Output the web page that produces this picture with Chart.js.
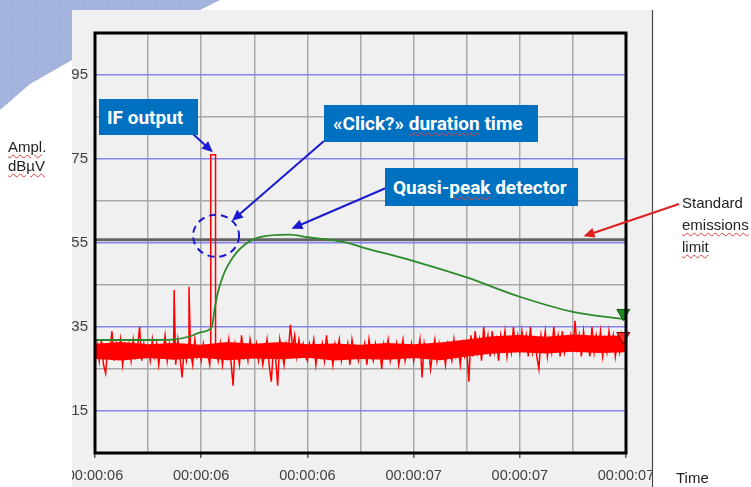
<!DOCTYPE html>
<html lang="en">
<head>
<meta charset="UTF-8">
<title>IF output and quasi-peak detector</title>
<script src="https://cdn.jsdelivr.net/npm/chart.js"></script>
<style>
  html, body { margin: 0; padding: 0; background: #fff; }
  body {
    width: 751px;
    height: 487px;
    position: relative;
    overflow: hidden;
    font-family: 'Liberation Sans', Arial, sans-serif;
  }
  .deco {
    position: absolute;
    left: 0;
    top: 0;
    width: 240px;
    height: 120px;
    background-color: #a6b5dd;
    background-image: radial-gradient(#95a7d4 0.7px, transparent 1px);
    background-size: 3px 3px;
    clip-path: polygon(0 0, 220px 0, 200px 10px, 140px 34px, 72px 60px, 30px 84px, 0 110px);
  }
  .wrap { position: absolute; left: 0; top: 0; width: 751px; height: 487px; }
  .side { position: absolute; font-size: 15px; color: #222; }
  .sp {
    text-decoration: underline wavy #e04040;
    text-decoration-thickness: 1px;
    text-underline-offset: 2px;
  }
  .box {
    position: absolute;
    background: #0070c0;
    color: #fff;
    font-family: Roboto, 'Open Sans', sans-serif;
    font-weight: bold;
    font-size: 19px;
    display: flex;
    align-items: center;
    box-sizing: border-box;
    white-space: nowrap;
  }
</style>
</head>
<body>

<div class="deco"></div>

<div class="wrap">
  <canvas id="chart"></canvas>
</div>

<div class="side" style="left:8px; top:137px; line-height:19px;"><span class="sp">Ampl</span>.<br><span class="sp">dBµV</span></div>
<div class="side" style="left:682px; top:192px; line-height:22px;">Standard<br><span class="sp">emissions</span><br><span class="sp">limit</span></div>
<div class="side" style="left:676px; top:468px; line-height:20px;">Time</div>

<div class="box" style="left:99px; top:99px; width:99px; height:36px; padding-left:8px;">IF output</div>
<div class="box" style="left:324px; top:105px; width:214px; height:37px; padding-left:9px;">«Click?»&nbsp;<span class="sp">duration</span>&nbsp;time</div>
<div class="box" style="left:385px; top:168px; width:193px; height:38px; padding-left:8px;">Quasi-<span class="sp">peak</span>&nbsp;detector</div>

<script>
  // axis labels
  const xTickLabels = ['00:00:06', '00:00:06', '00:00:06', '00:00:07', '00:00:07', '00:00:07'];
  const yTickLabels = [15, 35, 55, 75, 95];

  // IF output (red): sampled noise, one value every 0.04 grid division
  const noiseStep = 0.04;
  const noise = [
    28, 31, 27, 32, 26, 24, 30, 29, 34, 27, 31, 28, 32, 26, 30, 29, 31, 27, 32, 28, 30, 35, 27, 31, 28,
    30, 27, 32, 28, 31, 26, 30, 29, 33, 27, 31, 28, 30, 26, 32, 28, 23, 30, 27, 31, 29, 26, 32, 28, 30,
    27, 31, 28, 29, 26, 32, 28, 30, 27, 31, 26, 30, 28, 32, 27, 21, 31, 29, 26, 33, 28, 30, 27, 32, 29,
    28, 31, 27, 30, 26, 29, 32, 26, 22, 30, 28, 21, 32, 29, 26, 31, 29, 35.5, 30, 33, 28, 32, 29, 31, 28,
    27, 31, 29, 32, 26, 30, 28, 31, 27, 33, 28, 30, 26, 31, 29, 32, 27, 30, 28, 31, 26, 32, 29, 30, 27,
    30, 28, 31, 26, 32, 29, 27, 31, 28, 30, 25, 31, 29, 32, 27, 30, 28, 31, 26, 29, 32, 27, 30, 28, 31,
    27, 30, 29, 32, 23, 31, 28, 30, 25, 29, 32, 27, 31, 28, 30, 26, 31, 29, 27, 32, 28, 30, 26, 31, 28,
    30, 22, 33, 28, 34, 29, 32, 27, 35, 30, 33, 28, 34, 29, 32, 27, 33, 30, 34, 28, 32, 29, 35, 30, 33,
    29, 34, 30, 33, 28, 35, 29, 32, 28, 25, 33, 30, 34, 28, 32, 29, 35, 30, 33, 28, 34, 29, 32, 30, 33,
    29, 36.5, 30, 33, 28, 34, 30, 32, 28, 35, 29, 33, 30, 34, 28, 32, 29, 34, 30, 33, 28, 32, 29, 33, 30,
    32
  ];
  // solid core of the noise band (lower / upper edge), read every half division
  const coreT = [0, 0.5, 1, 1.5, 2, 2.5, 3, 3.5, 4, 4.5, 5, 5.5, 6, 6.5, 7, 7.5, 8, 8.5, 9, 9.5, 10];
  const coreLo = [27.4, 27, 27.6, 27.2, 27.7, 27.1, 27.5, 27.3, 27.7, 27, 27.4, 27.2, 27.6, 27.1, 28, 28.7, 29, 28.7, 29.1, 28.8, 29];
  const coreHi = [31, 31.4, 30.9, 31.2, 30.8, 31.4, 31, 31.4, 30.9, 31.1, 30.8, 31.2, 30.9, 31.3, 32, 32.8, 33.1, 32.7, 33.2, 32.9, 33];
  const spikeT = [1.49, 1.77];
  const spikeV = [43.8, 44.6];
  const pulseT = [2.18, 2.18, 2.27, 2.27];
  const pulseV = [29, 76, 76, 28];

  // quasi-peak detector (green)
  const qpT = [0, 1.0, 1.45, 1.8, 2.0, 2.2, 2.25, 2.3, 2.4, 2.5, 2.73, 3.1, 3.65, 4.0, 4.7, 5.0, 6.0, 7.0, 8.0, 9.0, 10];
  const qpV = [31.9, 31.9, 32.0, 32.8, 33.8, 35.0, 39.0, 42.5, 46.8, 49.6, 53.6, 56.4, 57.0, 56.4, 55.2, 54.1, 50.7, 46.8, 42.2, 38.6, 36.8];

  // standard emissions limit
  const limitT = [0, 10];
  const limitV = [55.8, 55.8];

  // end markers
  const markT = [9.95];
  const markQpV = [38.3];
  const markIfV = [32.8];

  const ifPts = [];
  noise.forEach((v, i) => {
    const t = +(i * noiseStep).toFixed(2);
    if (t > pulseT[0] && t < pulseT[3]) return;
    ifPts.push({ x: t, y: v });
  });
  spikeT.forEach((t, i) => ifPts.push({ x: t, y: spikeV[i] }));
  pulseT.forEach((t, i) => ifPts.push({ x: t, y: pulseV[i] }));
  ifPts.sort((a, b) => a.x - b.x);

  const pts = (ts, vs) => ts.map((t, i) => ({ x: t, y: vs[i] }));

  function arrow(ctx, x1, y1, x2, y2, color) {
    const a = Math.atan2(y2 - y1, x2 - x1);
    const hl = 11, hw = 5;
    ctx.strokeStyle = color;
    ctx.fillStyle = color;
    ctx.lineWidth = 2;
    ctx.beginPath();
    ctx.moveTo(x1, y1);
    ctx.lineTo(x2 - Math.cos(a) * hl * 0.8, y2 - Math.sin(a) * hl * 0.8);
    ctx.stroke();
    ctx.beginPath();
    ctx.moveTo(x2, y2);
    ctx.lineTo(x2 - Math.cos(a) * hl - Math.sin(a) * hw, y2 - Math.sin(a) * hl + Math.cos(a) * hw);
    ctx.lineTo(x2 - Math.cos(a) * hl + Math.sin(a) * hw, y2 - Math.sin(a) * hl - Math.cos(a) * hw);
    ctx.closePath();
    ctx.fill();
  }

  const pagePlugin = {
    id: 'page',
    beforeDraw(chart) {
      const ctx = chart.ctx;
      ctx.save();
      ctx.fillStyle = '#f0f0f0';
      ctx.fillRect(72, 10, 580, 477);
      ctx.strokeStyle = '#4a4a4a';
      ctx.lineWidth = 1.2;
      ctx.beginPath();
      ctx.moveTo(652.5, 10);
      ctx.lineTo(652.5, 487);
      ctx.stroke();
      ctx.beginPath();
      ctx.rect(72, 10, 580, 477);
      ctx.clip();
    },
    afterDatasetsDraw(chart) {
      const ctx = chart.ctx;
      const a = chart.chartArea;
      const xs = chart.scales.x, ys = chart.scales.y;
      ctx.save();
      ctx.strokeStyle = '#000';
      ctx.lineWidth = 3;
      ctx.strokeRect(a.left, a.top, a.right - a.left, a.bottom - a.top);

      // dashed circle round the click
      const cx = xs.getPixelForValue(2.28), cy = ys.getPixelForValue(56.7);
      ctx.strokeStyle = '#1a1ad0';
      ctx.lineWidth = 2;
      ctx.setLineDash([7, 5]);
      ctx.beginPath();
      ctx.ellipse(cx, cy, 23, 21, 0, 0, Math.PI * 2);
      ctx.stroke();
      ctx.setLineDash([]);

      arrow(ctx, 193, 134, xs.getPixelForValue(2.22), ys.getPixelForValue(76.6), '#1a1ad0');
      arrow(ctx, 324, 141, cx + 16, cy - 15, '#1a1ad0');
      arrow(ctx, 386, 188, xs.getPixelForValue(3.7), ys.getPixelForValue(58.4), '#1a1ad0');
      ctx.restore();
    },
    afterDraw(chart) {
      const ctx = chart.ctx;
      ctx.restore();
      const xs = chart.scales.x, ys = chart.scales.y;
      ctx.save();
      arrow(ctx, 679, 204, xs.getPixelForValue(9.2), ys.getPixelForValue(56.6), '#e02020');
      ctx.restore();
    }
  };

  const tickFont = { family: "'Liberation Sans', Arial, sans-serif", size: 14.5 };

  new Chart(document.getElementById('chart'), {
    type: 'line',
    data: {
      datasets: [
        {
          label: 'QP marker', data: pts(markT, markQpV), showLine: false, clip: false,
          pointStyle: 'triangle', rotation: 180, pointRadius: 7.5,
          pointBackgroundColor: '#1e8c1e', pointBorderColor: '#0b5a0b', pointBorderWidth: 1, order: 0
        },
        {
          label: 'IF marker', data: pts(markT, markIfV), showLine: false, clip: false,
          pointStyle: 'triangle', rotation: 180, pointRadius: 7.5,
          pointBackgroundColor: '#ff2a2a', pointBorderColor: '#7a0000', pointBorderWidth: 1, order: 1
        },
        {
          label: 'Quasi-peak detector', data: pts(qpT, qpV),
          borderColor: '#2a8a2a', borderWidth: 1.8, pointRadius: 0,
          cubicInterpolationMode: 'monotone', order: 2
        },
        {
          label: 'IF output', data: ifPts,
          borderColor: '#ff0000', borderWidth: 1.5, pointRadius: 0, tension: 0, order: 3
        },
        {
          label: 'core low', data: pts(coreT, coreLo),
          borderWidth: 0, pointRadius: 0, fill: false, order: 4
        },
        {
          label: 'core high', data: pts(coreT, coreHi),
          borderWidth: 0, pointRadius: 0, fill: '-1', backgroundColor: '#ff0000', order: 5
        },
        {
          label: 'Standard emissions limit', data: pts(limitT, limitV),
          borderColor: '#646464', borderWidth: 3, pointRadius: 0, order: 6
        }
      ]
    },
    options: {
      responsive: true,
      maintainAspectRatio: false,
      animation: false,
      layout: { padding: { left: 65, top: 33, right: 125, bottom: 0 } },
      plugins: { legend: { display: false }, tooltip: { enabled: false } },
      scales: {
        x: {
          type: 'linear', min: 0, max: 10,
          border: { display: false },
          grid: {
            color: '#a9a9a9', lineWidth: 1.5, drawTicks: true, tickLength: 5,
            tickColor: c => (c.tick && c.tick.value % 2 === 0) ? '#555' : 'rgba(0,0,0,0)'
          },
          ticks: {
            stepSize: 1, autoSkip: false, maxRotation: 0, minRotation: 0, padding: 9,
            color: '#404040', font: tickFont,
            callback: v => v % 2 === 0 ? xTickLabels[v / 2] : ''
          },
          afterFit: s => { s.height = 34; s.paddingLeft = 0; s.paddingRight = 0; }
        },
        y: {
          min: 5, max: 105,
          border: { display: false },
          grid: {
            drawTicks: false, lineWidth: 1.5,
            color: c => yTickLabels.includes(c.tick.value) ? '#8585f2' : '#a9a9a9'
          },
          ticks: {
            stepSize: 10, padding: 7, color: '#404040',
            font: { family: tickFont.family, size: 15 },
            callback: v => yTickLabels.includes(v) ? String(v) : ''
          },
          afterFit: s => { s.width = 30; s.paddingTop = 0; s.paddingBottom = 0; }
        }
      }
    },
    plugins: [pagePlugin]
  });
</script>
</body>
</html>
